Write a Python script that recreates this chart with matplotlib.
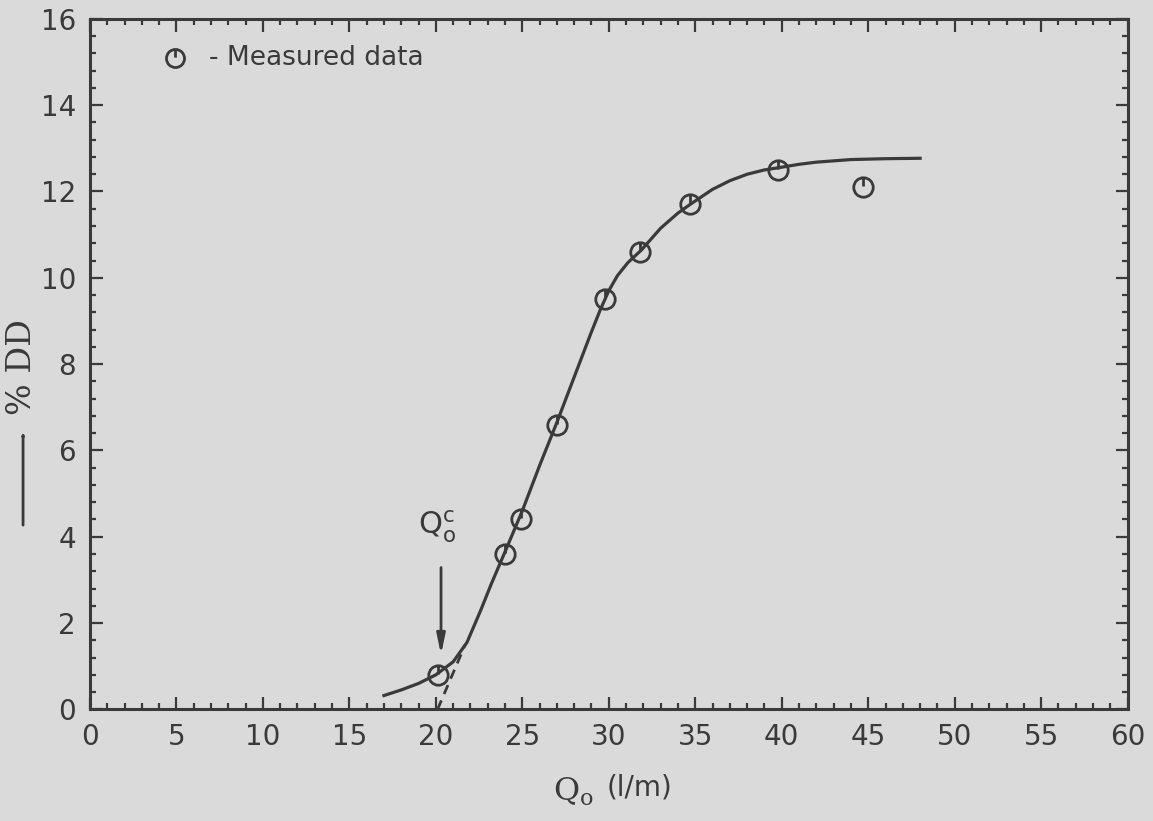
import numpy as np
import matplotlib.pyplot as plt
from matplotlib.path import Path
from matplotlib.patches import FancyArrowPatch
from matplotlib.ticker import MultipleLocator

# measured points
q_meas = [20.1, 24.0, 24.9, 27.0, 29.8, 31.8, 34.7, 39.8, 44.7]
dd_meas = [0.8, 3.6, 4.4, 6.6, 9.5, 10.6, 11.7, 12.5, 12.1]

# fitted curve
q_fit = [17, 18, 19, 20, 21, 21.8, 22.6, 23.2, 24.0, 25.0, 26.0, 27.0, 28.0, 29.0,
         29.5, 30.0, 30.5, 31.1, 31.9, 33.0, 34.0, 34.7, 36.0, 37.0, 38.0, 39.0,
         39.8, 41.0, 42.0, 44.0, 46.0, 48.0]
dd_fit = [0.32, 0.45, 0.6, 0.8, 1.1, 1.55, 2.3, 2.9, 3.65, 4.6, 5.65, 6.65, 7.7, 8.75,
          9.25, 9.7, 10.05, 10.35, 10.65, 11.15, 11.5, 11.7, 12.05, 12.25, 12.4, 12.5,
          12.55, 12.63, 12.68, 12.74, 12.76, 12.77]

# dashed tangent near the onset
q_tan = [20.1, 21.7]
dd_tan = [0.0, 1.5]

q_crit = 20.3

ink = '#3a3a3a'
paper = '#dadada'

# circle with a little tick inside, like the hand-drawn symbol
marker = Path.make_compound_path(Path.unit_circle(),
                                 Path([(0, 1), (0, 0.1)], [Path.MOVETO, Path.LINETO]))

fig = plt.figure(figsize=(11.53, 8.21), dpi=100, facecolor=paper)
ax = fig.add_axes([0.078, 0.136, 0.9, 0.841], facecolor=paper)

ax.plot(q_fit, dd_fit, color=ink, lw=2.3, zorder=2, solid_joinstyle='round')
ax.plot(q_tan, dd_tan, color=ink, lw=2.0, ls=(0, (3.5, 2.5)), zorder=2)
ax.plot(q_meas, dd_meas, ls='none', marker=marker, ms=14, mfc='none',
        mec=ink, mew=2.0, zorder=3)

# legend drawn by hand
ax.plot([4.9], [15.1], ls='none', marker=marker, ms=13, mfc='none', mec=ink, mew=2.0)
ax.text(6.9, 15.1, '- Measured data', fontsize=19, color=ink, va='center', ha='left')

# critical flow arrow
ax.annotate('', xy=(q_crit, 1.2), xytext=(q_crit, 3.35),
            arrowprops=dict(arrowstyle='-|>,head_length=1.2,head_width=0.25',
                            color=ink, lw=2.0))
ax.text(q_crit - 0.2, 3.8, r'$\mathregular{Q_o^c}$', fontsize=22, color=ink,
        ha='center', va='bottom')

ax.set_xlim(0, 60)
ax.set_ylim(0, 16)
ax.xaxis.set_major_locator(MultipleLocator(5))
ax.xaxis.set_minor_locator(MultipleLocator(1))
ax.yaxis.set_major_locator(MultipleLocator(2))
ax.yaxis.set_minor_locator(MultipleLocator(0.4))
ax.tick_params(which='both', direction='in', top=True, right=True, color=ink,
               labelcolor=ink, labelsize=20)
ax.tick_params(which='major', length=9, width=1.6, pad=10)
ax.tick_params(which='minor', length=4.5, width=1.6)
for s in ax.spines.values():
    s.set_linewidth(2.2)
    s.set_color(ink)

# axis labels
fig.text(0.019, 0.553, '% DD', rotation=90, fontsize=24, family='DejaVu Serif',
         color=ink, ha='center', va='center')
fig.patches.append(FancyArrowPatch(
    (0.020, 0.357), (0.020, 0.48), transform=fig.transFigure,
    arrowstyle='-|>,head_length=0.9,head_width=0.22', color=ink, lw=2.0))
fig.text(0.497, 0.025, r'$\mathregular{Q_o}$', fontsize=23, family='DejaVu Serif',
         color=ink, ha='center', va='baseline')
fig.text(0.526, 0.031, '(l/m)', fontsize=20, color=ink, ha='left', va='baseline')

fig.savefig('out.png', dpi=100, facecolor=paper)
